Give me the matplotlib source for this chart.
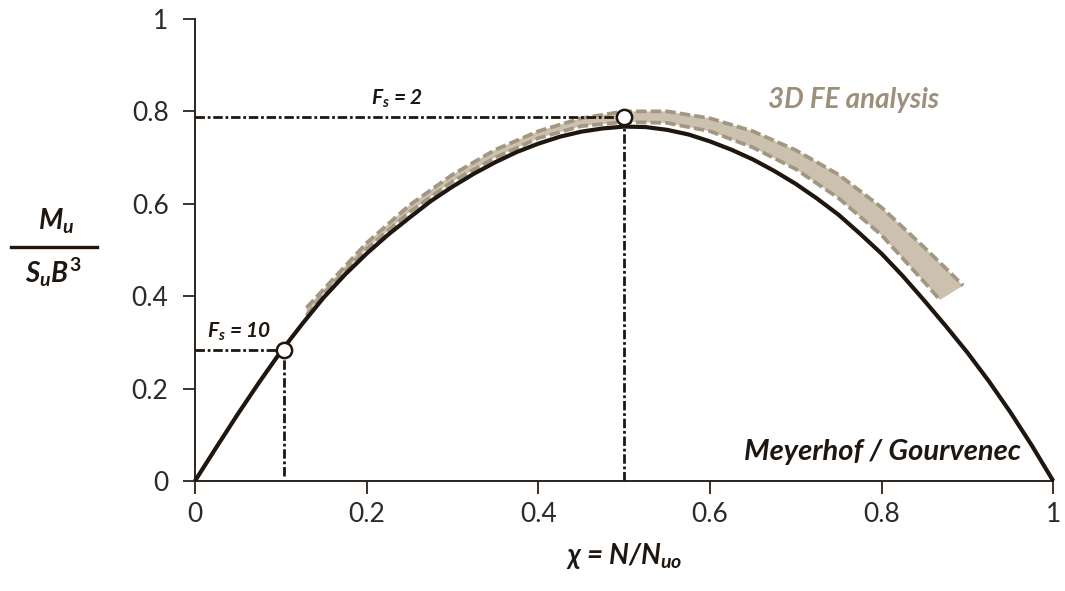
import numpy as np
import matplotlib
matplotlib.use('Agg')
import matplotlib.pyplot as plt
from matplotlib.lines import Line2D

# ==================== data ====================
# Meyerhof / Gourvenec curve
chi = [0.0, 0.025, 0.05, 0.075, 0.10, 0.125, 0.15, 0.175, 0.20, 0.225,
       0.25, 0.275, 0.30, 0.325, 0.35, 0.375, 0.40, 0.425, 0.45, 0.475,
       0.50, 0.525, 0.55, 0.575, 0.60, 0.625, 0.65, 0.675, 0.70, 0.725,
       0.75, 0.775, 0.80, 0.825, 0.85, 0.875, 0.90, 0.925, 0.95, 0.975, 1.0]
mu = [0.0, 0.073, 0.145, 0.214, 0.28, 0.34, 0.397, 0.447, 0.492, 0.533,
      0.57, 0.606, 0.637, 0.665, 0.69, 0.712, 0.73, 0.745, 0.756, 0.763,
      0.767, 0.766, 0.76, 0.75, 0.735, 0.717, 0.696, 0.671, 0.643, 0.611,
      0.576, 0.535, 0.492, 0.443, 0.39, 0.335, 0.278, 0.216, 0.149, 0.077, 0.0]

# 3D FE analysis band
fe_up_x = [0.13, 0.15, 0.20, 0.25, 0.30, 0.35, 0.40, 0.45, 0.50, 0.55,
           0.60, 0.65, 0.70, 0.75, 0.80, 0.85, 0.875, 0.895]
fe_up_y = [0.375, 0.415, 0.515, 0.597, 0.663, 0.717, 0.757, 0.785, 0.80, 0.80,
           0.785, 0.757, 0.716, 0.663, 0.592, 0.505, 0.46, 0.423]
fe_lo_x = [0.13, 0.15, 0.20, 0.25, 0.30, 0.35, 0.40, 0.45, 0.50, 0.55,
           0.60, 0.65, 0.70, 0.75, 0.80, 0.85, 0.868]
fe_lo_y = [0.358, 0.405, 0.502, 0.582, 0.648, 0.70, 0.742, 0.768, 0.777, 0.775,
           0.757, 0.722, 0.675, 0.612, 0.532, 0.43, 0.392]

# factor of safety points
fs_x = [0.104, 0.5]
fs_y = [0.284, 0.787]
fs_labels = ['10', '2']
# ==============================================

DARK = '#1f170f'
FILL = '#cbc1ae'
DASH = '#a39782'
FAM = ['Lato', 'DejaVu Sans']

plt.rcParams['font.family'] = FAM
plt.rcParams['mathtext.fontset'] = 'custom'
plt.rcParams['mathtext.rm'] = 'Lato:bold'
plt.rcParams['mathtext.it'] = 'Lato:italic:bold'
plt.rcParams['mathtext.bf'] = 'Lato:bold'

fig = plt.figure(figsize=(10.65, 5.91), dpi=100)
ax = fig.add_axes([0.183, 0.186, 0.806, 0.782])

# band
band_x = np.concatenate([fe_up_x, fe_lo_x[::-1]])
band_y = np.concatenate([fe_up_y, fe_lo_y[::-1]])
ax.fill(band_x, band_y, color=FILL, lw=0, zorder=2)
ax.plot(fe_up_x, fe_up_y, color=DASH, lw=2.7, ls=(0, (2.8, 1.1)), zorder=3)
ax.plot(fe_lo_x, fe_lo_y, color=DASH, lw=2.7, ls=(0, (2.8, 1.1)), zorder=3)

# Meyerhof curve
ax.plot(chi, mu, color=DARK, lw=3.0, zorder=4, clip_on=False,
        solid_capstyle='butt', solid_joinstyle='round')

# dash-dot guides + points
dd = (0, (3.4, 1.0, 1.0, 1.0))
for x, y, lab in zip(fs_x, fs_y, fs_labels):
    ax.plot([0, x], [y, y], color=DARK, lw=2.0, ls=dd, zorder=5)
    ax.plot([x, x], [0.012 if x < 0.3 else 0, y], color=DARK, lw=2.0, ls=dd, zorder=5)
ax.plot(fs_x, fs_y, 'o', ms=11, mfc='white', mec=DARK, mew=1.8, zorder=6)

ax.text(0.236, 0.826, '$F_s$ = 2', ha='center', va='center', fontsize=15,
        fontweight='bold', style='italic', color=DARK)
ax.text(0.052, 0.323, '$F_s$ = 10', ha='center', va='center', fontsize=15,
        fontweight='bold', style='italic', color=DARK)
ax.text(0.668, 0.824, '3D FE analysis', ha='left', va='center', fontsize=20,
        fontweight='bold', style='italic', color='#9c907c')
ax.text(0.962, 0.062, 'Meyerhof / Gourvenec', ha='right', va='center', fontsize=21,
        fontweight='bold', style='italic', color=DARK)

ax.set_xlim(0, 1)
ax.set_ylim(0, 1)
ax.set_xticks([0, 0.2, 0.4, 0.6, 0.8, 1])
ax.set_xticklabels(['0', '0.2', '0.4', '0.6', '0.8', '1'])
ax.set_yticks([0, 0.2, 0.4, 0.6, 0.8, 1])
ax.set_yticklabels(['0', '0.2', '0.4', '0.6', '0.8', '1'])
for s in ['top', 'right']:
    ax.spines[s].set_visible(False)
for s in ['left', 'bottom']:
    ax.spines[s].set_color('#2b231b')
    ax.spines[s].set_linewidth(1.4)
ax.tick_params(axis='both', direction='out', length=9, width=1.3,
               color='#2b231b', labelsize=19, labelcolor='#2a2a2a')
ax.tick_params(axis='x', pad=6)
ax.tick_params(axis='y', pad=10)

ax.set_xlabel('χ = N/$N_{uo}$', fontsize=20, fontweight='bold', style='italic',
              color=DARK, labelpad=10)

# y label as a fraction
fig.text(0.053, 0.625, '$M_u$', ha='center', va='center', fontsize=20, color=DARK)
fig.text(0.050, 0.540, '$S_u B^3$', ha='center', va='center', fontsize=20, color=DARK)
fig.add_artist(Line2D([0.010, 0.091], [0.582, 0.582], transform=fig.transFigure,
                      color=DARK, lw=2.4))

fig.savefig('out.png', dpi=100)
